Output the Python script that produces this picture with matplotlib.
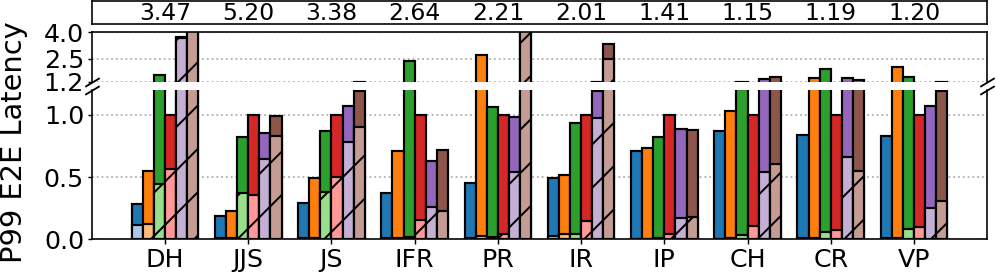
import matplotlib
matplotlib.use("Agg")
import matplotlib.pyplot as plt
import numpy as np

categories = ["DH", "JJS", "JS", "IFR", "PR", "IR", "IP", "CH", "CR", "VP"]
top_labels = ["3.47", "5.20", "3.38", "2.64", "2.21", "2.01", "1.41", "1.15", "1.19", "1.20"]

# full (solid) bar heights per series
blue   = [0.287, 0.185, 0.292, 0.375, 0.450, 0.493, 0.708, 0.869, 0.839, 0.834]
orange = [0.547, 0.228, 0.493, 0.713, 2.73, 0.517, 0.735, 1.032, 1.427, 2.05]
green  = [1.597, 0.823, 0.869, 2.35, 1.064, 0.933, 0.820, 1.205, 1.90, 1.45]
red    = [1.0, 1.0, 1.0, 1.0, 0.996, 0.996, 1.0, 1.0, 1.0, 1.0]
purple = [3.75, 0.855, 1.072, 0.633, 0.981, 1.195, 0.890, 1.35, 1.41, 1.075]
brown  = [4.4, 0.989, 1.195, 0.721, 4.4, 3.355, 0.877, 1.445, 1.31, 1.195]

# hatched (light) bar heights per series
blue_l   = [0.118, 0.01, 0.01, 0.01, 0.01, 0.024, 0.005, 0.005, 0.01, 0.01]
orange_l = [0.123, 0.01, 0.01, 0.01, 0.024, 0.043, 0.005, 0.01, 0.01, 0.01]
green_l  = [0.448, 0.370, 0.381, 0.02, 0.02, 0.046, 0.013, 0.035, 0.059, 0.08]
red_l    = [0.568, 0.354, 0.504, 0.155, 0.046, 0.150, 0.040, 0.107, 0.075, 0.099]
purple_l = [3.65, 0.649, 0.780, 0.260, 0.539, 0.973, 0.172, 0.539, 0.665, 0.252]
brown_l  = [4.4, 0.831, 0.906, 0.228, 4.4, 2.47, 0.177, 0.603, 0.552, 0.308]

solid = [blue, orange, green, red, purple, brown]
light = [blue_l, orange_l, green_l, red_l, purple_l, brown_l]
dark_colors = ["#1f77b4", "#ff7f0e", "#2ca02c", "#d62728", "#9467bd", "#8c564b"]
light_colors = ["#aec7e8", "#ffbb78", "#98df8a", "#ff9896", "#c5b0d5", "#c49c94"]

DPI = 130
fig = plt.figure(figsize=(996 / DPI, 278 / DPI), dpi=DPI)
plt.rcParams["hatch.linewidth"] = 1.1

L = 92 / 996
W = (987 - 92) / 996
ax_top = fig.add_axes([L, (278 - 24.3) / 278, W, 23.6 / 278])
ax_up = fig.add_axes([L, (278 - 81.7) / 278, W, 49.4 / 278])
ax_lo = fig.add_axes([L, (278 - 239.3) / 278, W, 149.2 / 278])

x = np.arange(len(categories))
n = len(solid)
bw = 0.8 / n
xlim = (-0.877, len(categories) - 1 + 0.877)

for ax in (ax_up, ax_lo):
    ax.set_axisbelow(True)
    ax.yaxis.grid(True, linestyle=":", color="#b0b0b0", linewidth=1.0)
    for i in range(n):
        pos = x + (i - (n - 1) / 2) * bw
        ax.bar(pos, solid[i], bw, color=dark_colors[i], edgecolor="black", linewidth=1.2)
        ax.bar(pos, light[i], bw, color=light_colors[i], edgecolor="black",
               linewidth=1.2, hatch="/")
    ax.set_xlim(*xlim)
    for s in ax.spines.values():
        s.set_linewidth(0.9)

ax_lo.set_ylim(0, 1.2)
ax_lo.set_yticks([0.0, 0.5, 1.0])
ax_lo.set_yticklabels(["0.0", "0.5", "1.0"])
ax_lo.spines["top"].set_visible(False)
ax_lo.set_xticks(x)
ax_lo.set_xticklabels(categories, fontsize=14)
ax_lo.tick_params(axis="x", length=2.6, width=0.8, pad=2)
ax_lo.tick_params(axis="y", labelsize=14, length=2.4, width=0.8, pad=2)

ax_up.set_ylim(1.2, 4.0)
ax_up.set_yticks([1.2, 2.5, 4.0])
ax_up.set_yticklabels(["1.2", "2.5", "4.0"])
ax_up.spines["bottom"].set_visible(False)
ax_up.set_xticks([])
ax_up.tick_params(axis="y", labelsize=14, length=2.4, width=0.8, pad=2)

# break marks
kw = dict(marker=[(-1, -0.6), (1, 0.6)], markersize=8, linestyle="none",
          color="k", mec="k", mew=1, clip_on=False)
ax_up.plot([0, 1], [0, 0], transform=ax_up.transAxes, **kw)
ax_lo.plot([0, 1], [1, 1], transform=ax_lo.transAxes, **kw)

# top box with numbers
ax_top.set_xlim(*xlim)
ax_top.set_ylim(0, 1)
ax_top.set_xticks([])
ax_top.set_yticks([])
for s in ax_top.spines.values():
    s.set_linewidth(0.9)
for xi, t in zip(x, top_labels):
    ax_top.text(xi, 0.45, t, ha="center", va="center", fontsize=13)

fig.text(14 / 996, (278 - 142) / 278, "P99 E2E Latency", rotation=90,
         ha="center", va="center", fontsize=16)

fig.savefig("out.png", dpi=DPI)
